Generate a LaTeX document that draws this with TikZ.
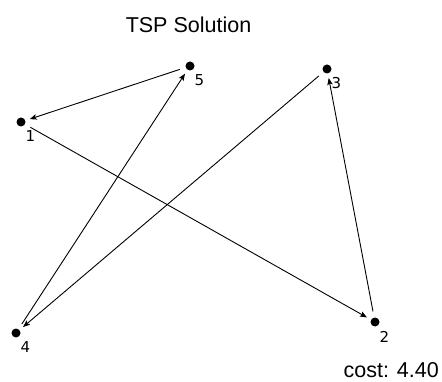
\documentclass[tikz,border=0pt]{standalone}
\usepackage{fontspec}
\setmainfont{Liberation Sans}
\newfontfamily\numfont{DejaVu Sans}
\usepackage{tikz}
\usetikzlibrary{arrows.meta, positioning, calc}
\definecolor{tourblack}{RGB}{0,0,0}
\tikzset{
  city/.style={circle, fill=tourblack, draw=none, inner sep=0pt, minimum size=9pt},
  num/.style={font=\numfont\fontsize{15}{17}\selectfont, inner sep=0pt, anchor=center},
  heading/.style={font=\fontsize{21.5}{24}\selectfont, inner sep=0pt, anchor=base},
  costlbl/.style={font=\fontsize{21.5}{24}\selectfont, inner sep=0pt, anchor=base east},
  tour/.style={-{Stealth[length=7pt, width=5.5pt, inset=1.5pt]}, line width=0.9pt,
    color=tourblack, shorten <=6pt, shorten >=4.5pt},
}
\begin{document}
\begin{tikzpicture}[x=1pt, y=-1pt]
\useasboundingbox (0,0) rectangle (442,382);
\node[heading] (title) at (188.5,33) {TSP Solution};
\foreach \name/\x/\y in {1/21/122, 2/375/322, 3/327/69, 4/16/333, 5/190/66} {
  \node[city] (c\name) at (\x,\y) {};
  \node[num] (l\name) at ($(c\name)+(9.5,14.5)$) {\name};
}
\foreach \a/\b in {1/2, 2/3, 3/4, 4/5, 5/1}
  \draw[tour] (c\a) -- (c\b);
\node[costlbl] (cost) at (439,377) {cost: 4.40};
\end{tikzpicture}
\end{document}
